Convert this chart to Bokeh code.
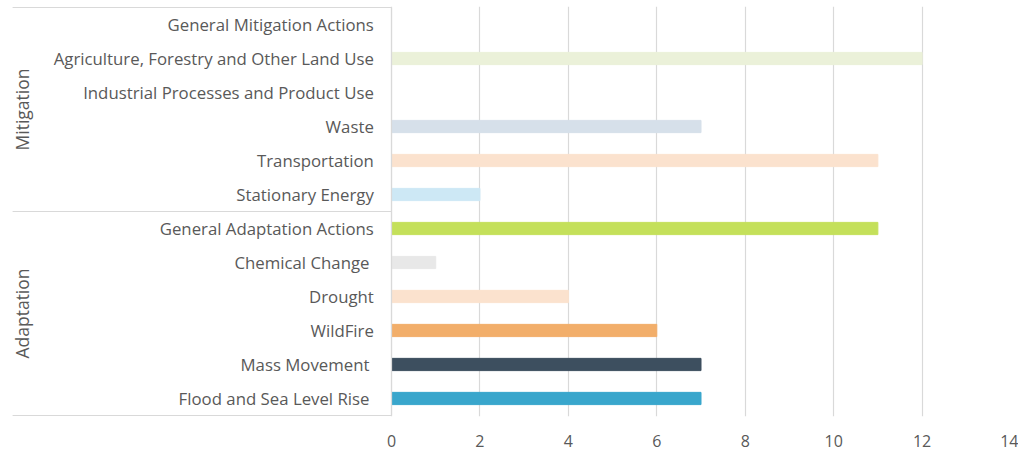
from bokeh.plotting import figure
from bokeh.models import Range1d, FixedTicker, ColumnDataSource
from bokeh.core.properties import value
from bokeh.embed import file_html
from bokeh.resources import INLINE

# Data (top to bottom)
categories = [
    "General Mitigation Actions",
    "Agriculture, Forestry and Other Land Use",
    "Industrial Processes and Product Use",
    "Waste",
    "Transportation",
    "Stationary Energy",
    "General Adaptation Actions",
    "Chemical Change ",
    "Drought",
    "WildFire",
    "Mass Movement ",
    "Flood and Sea Level Rise ",
]
counts = [0, 12, 0, 7, 11, 2, 11, 1, 4, 6, 7, 7]
colors = ["#ebf1d9", "#ebf1d9", "#dde7f0", "#d6e0ea", "#fbe2ce", "#cde8f5",
          "#c4e05a", "#e8e8e8", "#fbe2ce", "#f2ae6a", "#3d4f5f", "#39a6cc"]
groups = ["Mitigation", "Adaptation"]
group_sizes = [6, 6]
x_ticks = [0, 2, 4, 6, 8, 10, 12, 14]

n = len(categories)
ys = [n - 0.5 - i for i in range(n)]

FONT = "Open Sans"
TXT = "#595959"

p = figure(width=1018, height=452, output_backend="svg", toolbar_location=None,
           x_range=Range1d(-8.844, 14), y_range=Range1d(-0.03, n + 0.03),
           min_border_left=0, min_border_right=8, min_border_top=6, min_border_bottom=36)
p.outline_line_color = None
p.background_fill_color = "white"
p.border_fill_color = "white"

src = ColumnDataSource(dict(y=ys, right=counts, color=colors, cat=categories))
p.hbar(y="y", left=0, right="right", height=0.36, color="color", source=src)

# category labels
p.text(x=-0.4, y="y", text="cat", source=src, text_align="right", text_baseline="middle",
       text_font=value(FONT), text_font_size="16.8px", text_color=TXT)

# group labels and table lines
start = n
gy = []
for g, s in zip(groups, group_sizes):
    gy.append(start - s / 2)
    start -= s
p.text(x=[-8.36] * len(groups), y=gy, text=groups, angle=1.5708, text_align="center",
       text_baseline="middle", text_font=value(FONT), text_font_size="17.5px", text_color=TXT)

bounds = [n]
acc = n
for s in group_sizes:
    acc -= s
    bounds.append(acc)
p.segment(x0=[-8.57] * len(bounds), x1=[0] * len(bounds), y0=bounds, y1=bounds,
          line_color="#d9d9d9", line_width=1.2)
p.segment(x0=[0], x1=[0], y0=[0], y1=[n], line_color="#d9d9d9", line_width=1.2)

# axes
p.yaxis.visible = False
p.ygrid.grid_line_color = None
p.xaxis.bounds = (0, 14)
p.xaxis.ticker = FixedTicker(ticks=x_ticks)
p.xaxis.axis_line_color = None
p.xaxis.major_tick_line_color = None
p.xaxis.minor_tick_line_color = None
p.xaxis.major_label_standoff = 12
p.xaxis.major_label_text_font = FONT
p.xaxis.major_label_text_font_size = "16px"
p.xaxis.major_label_text_color = TXT
p.xgrid.ticker = FixedTicker(ticks=x_ticks)
p.xgrid.grid_line_color = "#d9d9d9"
p.xgrid.grid_line_width = 1.2

open("out.html", "w").write(file_html(p, INLINE))
